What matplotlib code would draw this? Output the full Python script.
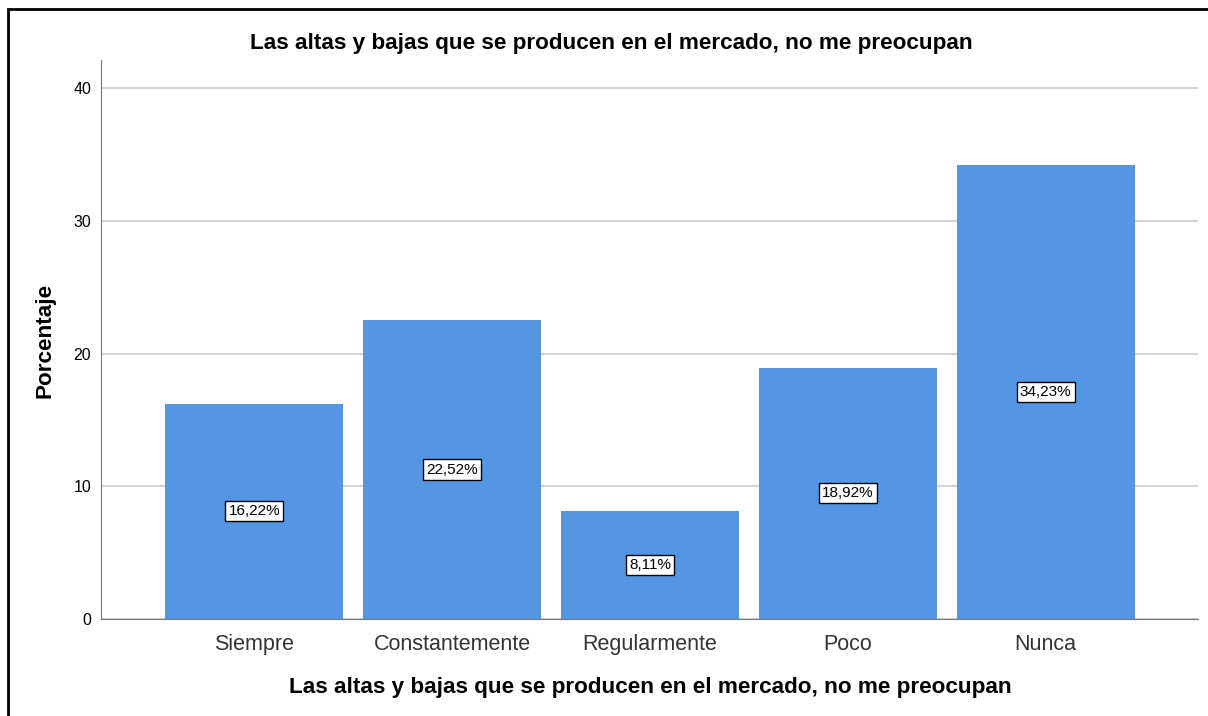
import matplotlib
matplotlib.use("Agg")
import matplotlib.pyplot as plt
from matplotlib.patches import Rectangle

categories = ["Siempre", "Constantemente", "Regularmente", "Poco", "Nunca"]
values = [16.22, 22.52, 8.11, 18.92, 34.23]
yticks = [0, 10, 20, 30, 40]
title = "Las altas y bajas que se producen en el mercado, no me preocupan"

plt.rcParams['font.family'] = ['Liberation Sans', 'DejaVu Sans']

W, H = 1208, 716
fig = plt.figure(figsize=(W / 100, H / 100), dpi=100)
ax = fig.add_axes([101 / W, 1 - 619 / H, (1198 - 101) / W, (619 - 60) / H])

x = list(range(len(categories)))
ax.bar(x, values, width=0.9, color="#5596E4", zorder=2)
for xi, v in zip(x, values):
    ax.text(xi, v / 2, f"{v:.2f}%".replace(".", ","), ha="center", va="center",
            fontsize=11, zorder=3,
            bbox=dict(boxstyle="square,pad=0.2", fc="white", ec="black", lw=1))

ax.set_xlim(-0.775, 4.77)
ax.set_ylim(0, 40 + 28 / 13.275)
ax.set_yticks(yticks)
ax.set_yticklabels([str(t) for t in yticks], fontsize=11.5)
ax.set_xticks(x)
ax.set_xticklabels(categories, fontsize=15.5, color="#333333")
ax.tick_params(axis="y", length=0, pad=7)
ax.tick_params(axis="x", length=0, pad=11)
ax.yaxis.grid(True, color="#d4d4d4", lw=1.5, zorder=1)
ax.set_axisbelow(True)
for s in ["top", "right"]:
    ax.spines[s].set_visible(False)
ax.spines["left"].set_color("#777777")
ax.spines["bottom"].set_color("#777777")

fig.text(611 / W, 1 - 43 / H, title, ha="center", va="center", fontsize=16.2, fontweight="bold")
fig.text(650 / W, 1 - 688 / H, title, ha="center", va="center", fontsize=16.2, fontweight="bold")
fig.text(45 / W, 1 - 340 / H, "Porcentaje", ha="center", va="center", rotation=90,
         fontsize=16.2, fontweight="bold")

fig.patches.append(Rectangle((8 / W, -0.1), 1.2, 1 - 9 / H + 0.1, transform=fig.transFigure,
                             fill=False, ec="black", lw=2))

fig.savefig("out.png", dpi=100)
